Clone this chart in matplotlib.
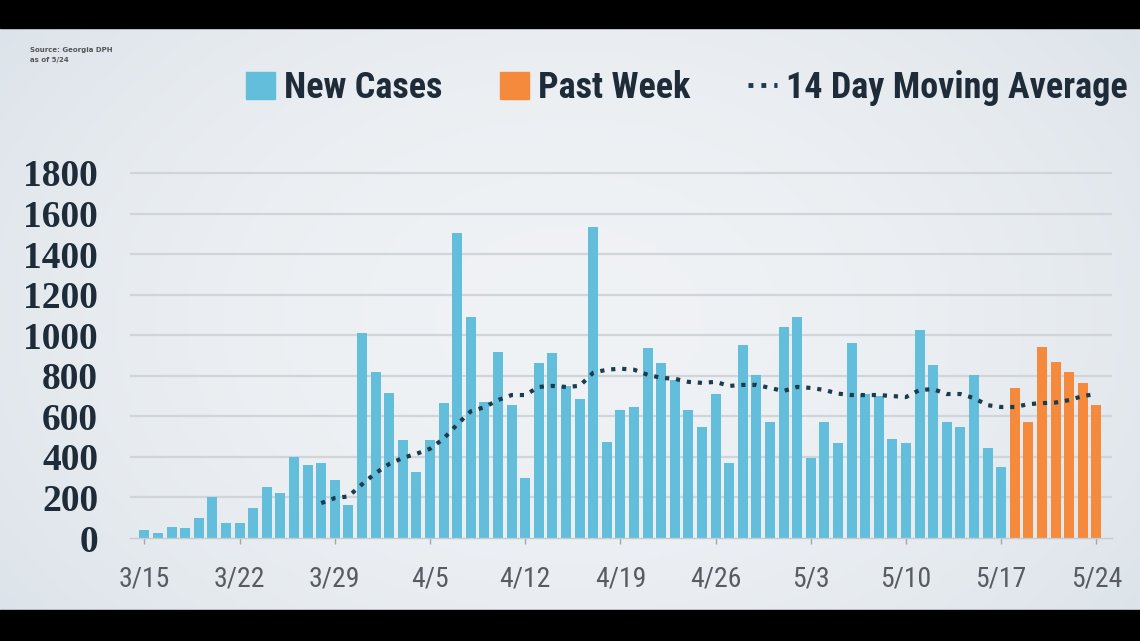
import matplotlib
matplotlib.use("Agg")
import matplotlib.pyplot as plt
from matplotlib import font_manager
from matplotlib.lines import Line2D
from matplotlib.patches import Patch, Rectangle
import numpy as np
import pandas as pd

#---------------------------------- data ----------------------------------

start_day = "2020-03-15"

new_cases = [39, 23, 56, 49, 97, 202, 72, 72, 148, 253, 220, 401, 360, 368, 286, 165, 1010,
             818, 714, 483, 327, 483, 665, 1503, 1090, 670, 917, 655, 296, 862, 912, 750, 685,
             1533, 473, 631, 646, 937, 862, 779, 631, 547, 710, 372, 951, 805, 570,
             1040, 1090, 394, 572, 468, 961, 710, 700, 488, 468, 1025, 853, 572, 547, 804, 444, 350]

past_week = [740, 572, 942, 868, 818, 764, 656]

# 14 day moving average, starts on 3/28
avg_start = "2020-03-28"
moving_avg = [172, 197, 205, 265,
              320, 365, 395, 415, 440, 490, 560, 625, 645, 680, 705, 705, 745, 750, 745,
              750, 815, 830, 835, 830, 805, 790, 785, 770, 765, 770, 750, 755, 755, 740,
              725, 745, 740, 730, 712, 705, 705, 705, 700, 695, 730, 734, 710, 710, 690,
              655, 646, 646, 660, 665, 668, 680, 700, 710]

tick_labels = ["3/15", "3/22", "3/29", "4/5", "4/12", "4/19", "4/26", "5/3", "5/10", "5/17", "5/24"]
y_ticks = [0, 200, 400, 600, 800, 1000, 1200, 1400, 1600, 1800]

#---------------------------------- fonts ----------------------------------

installed = set(f.name for f in font_manager.fontManager.ttflist)

def pick(names):
    for n in names:
        if n in installed:
            return n
    return "DejaVu Sans"

narrow = pick(["Liberation Sans Narrow", "Roboto Condensed", "DejaVu Sans Condensed", "Liberation Sans"])
serif = pick(["Liberation Serif", "DejaVu Serif"])

#---------------------------------- plot ----------------------------------

W, H = 1140, 641
fig = plt.figure(figsize=(W / 100, H / 100), dpi=100)

# soft grey-blue background
bg = fig.add_axes([0, 0, 1, 1])
gx = np.linspace(-1, 1, 300)
gy = np.linspace(-1, 1, 200)
GX, GY = np.meshgrid(gx, gy)
shade = np.clip(1 - 0.55 * GX ** 2 - 0.35 * GY ** 2, 0, 1)
c_edge = np.array([0.85, 0.88, 0.91])
c_mid = np.array([0.94, 0.95, 0.96])
img = c_edge + (c_mid - c_edge) * shade[..., None]
bg.imshow(img, aspect="auto", extent=[0, 1, 0, 1])
bg.axis("off")

# letterbox bands
fig.patches.append(Rectangle((0, 1 - 28 / H), 1, 28 / H, transform=fig.transFigure, color="black", zorder=10))
fig.patches.append(Rectangle((0, 0), 1, 31 / H, transform=fig.transFigure, color="black", zorder=10))

ax_left, ax_right = 130, 1112
y0_px, ymax = 538, 1900
px_per_unit = 365 / 1800
top_px = y0_px - ymax * px_per_unit
ax = fig.add_axes([ax_left / W, (H - y0_px) / H, (ax_right - ax_left) / W, (y0_px - top_px) / H])
ax.patch.set_alpha(0)

blue_days = pd.date_range(start_day, periods=len(new_cases), freq="D")
orange_days = pd.date_range(blue_days[-1] + pd.Timedelta(days=1), periods=len(past_week), freq="D")
avg_days = pd.date_range(avg_start, periods=len(moving_avg), freq="D")
all_days = blue_days.append(orange_days)

for y in y_ticks[1:]:
    ax.axhline(y, color="#d0d5da", lw=1.6, zorder=0)

ax.bar(blue_days, new_cases, width=0.74, color="#62bedb", zorder=2)
ax.bar(orange_days, past_week, width=0.74, color="#f58a3c", zorder=2)
ax.plot(avg_days, moving_avg, color="#1c3b4c", lw=3, ls=":", zorder=3)

ax.set_xlim(all_days[0] - pd.Timedelta(days=1.06), all_days[-1] + pd.Timedelta(days=1.15))
ax.set_ylim(0, ymax)

ax.set_xticks(all_days[::7])
ax.set_xticklabels(tick_labels, fontfamily=narrow, fontsize=20, color="#565c62")
ax.set_yticks(y_ticks)
ax.set_yticklabels([str(v) for v in y_ticks], fontfamily=serif, fontweight="bold",
                   fontsize=27, color="#1e2b38")
ax.tick_params(axis="x", length=4, width=1, color="#a0a7ad", pad=16)
ax.tick_params(axis="y", length=0, pad=23)

for s in ["top", "right", "left"]:
    ax.spines[s].set_visible(False)
ax.spines["bottom"].set_color("#c5cbd0")
ax.spines["bottom"].set_linewidth(1)

# legend across the top
handles = [Patch(color="#62bedb"), Patch(color="#f58a3c"),
           Line2D([0], [0], color="#1c3b4c", lw=3.5, ls=":")]
fig.legend(handles, ["New Cases", "Past Week", "14 Day Moving Average"],
           loc="center", bbox_to_anchor=((248 + 1125) / 2 / W, 1 - 88 / H),
           ncol=3, frameon=False, handlelength=0.8, handleheight=0.8,
           handletextpad=0.25, columnspacing=1.6,
           prop={"family": narrow, "weight": "bold", "size": 26})
for t in fig.legends[0].get_texts():
    t.set_color("#1e2b38")

# tiny source note
fig.text(30 / W, 1 - 50 / H, "Source: Georgia DPH", fontsize=5, color="#555", fontweight="bold", va="center")
fig.text(30 / W, 1 - 60 / H, "as of 5/24", fontsize=5, color="#555", fontweight="bold", va="center")

fig.savefig("out.png", dpi=100)
